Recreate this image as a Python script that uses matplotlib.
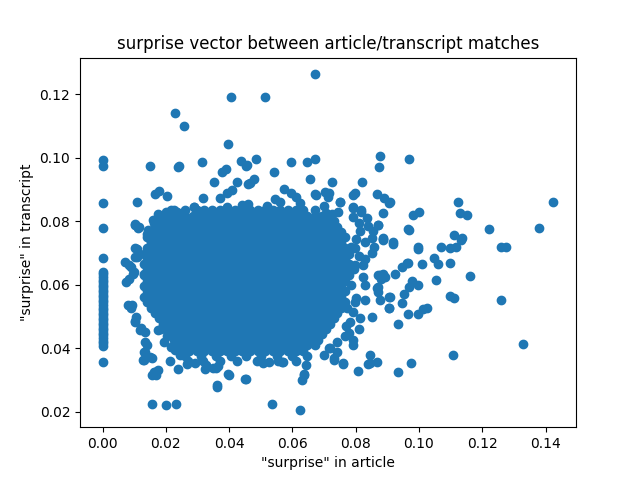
import matplotlib
matplotlib.use("Agg")
import matplotlib.pyplot as plt

# x == 0 column of matches
zero_col_y = [0.0994, 0.0973, 0.0859, 0.0779, 0.0686, 0.0641, 0.0633, 0.0625, 0.0617,
              0.0609, 0.0601, 0.0593, 0.0585, 0.0577, 0.0569, 0.0561, 0.0553, 0.0545,
              0.0537, 0.0529, 0.0521, 0.0513, 0.0505, 0.0497, 0.0489, 0.0481, 0.0473,
              0.0465, 0.0457, 0.0449, 0.0441, 0.0433, 0.0425, 0.0417, 0.0409, 0.0356]

# dense core, read row by row (y of row, x values in that row)
core_row_y = [0.0835, 0.0818, 0.0801, 0.0784, 0.0767, 0.0750, 0.0733, 0.0716, 0.0699,
              0.0682, 0.0665, 0.0648, 0.0631, 0.0614, 0.0597, 0.0580, 0.0563, 0.0546,
              0.0529, 0.0512, 0.0495, 0.0478, 0.0461, 0.0444, 0.0427, 0.0410, 0.0393,
              0.0376, 0.0360]
core_row_x = [
    # 0.0835
    [0.0226, 0.0262, 0.0298, 0.0322, 0.0346, 0.0370, 0.0394, 0.0418, 0.0442, 0.0466,
     0.0490, 0.0514, 0.0538, 0.0562, 0.0586, 0.0610, 0.0634, 0.0670],
    # 0.0818
    [0.0190, 0.0214, 0.0238, 0.0262, 0.0286, 0.0310, 0.0334, 0.0358, 0.0382,
     0.0406, 0.0430, 0.0454, 0.0478, 0.0502, 0.0526, 0.0550, 0.0574, 0.0598, 0.0622,
     0.0646, 0.0670, 0.0694, 0.0718],
    # 0.0801
    [0.0178, 0.0202, 0.0226, 0.0250, 0.0274, 0.0298, 0.0322, 0.0346, 0.0370,
     0.0394, 0.0418, 0.0442, 0.0466, 0.0490, 0.0514, 0.0538, 0.0562, 0.0586, 0.0610,
     0.0634, 0.0658, 0.0682, 0.0706, 0.0730],
    # 0.0784
    [0.0166, 0.0190, 0.0214, 0.0238, 0.0262, 0.0286, 0.0310, 0.0334, 0.0358,
     0.0382, 0.0406, 0.0430, 0.0454, 0.0478, 0.0502, 0.0526, 0.0550, 0.0574, 0.0598,
     0.0622, 0.0646, 0.0670, 0.0694, 0.0718, 0.0742],
    # 0.0767
    [0.0154, 0.0178, 0.0202, 0.0226, 0.0250, 0.0274, 0.0298, 0.0322, 0.0346, 0.0370,
     0.0394, 0.0418, 0.0442, 0.0466, 0.0490, 0.0514, 0.0538, 0.0562, 0.0586, 0.0610,
     0.0634, 0.0658, 0.0682, 0.0706, 0.0730, 0.0754],
    # 0.0750
    [0.0142, 0.0166, 0.0190, 0.0214, 0.0238, 0.0262, 0.0286, 0.0310, 0.0334, 0.0358,
     0.0382, 0.0406, 0.0430, 0.0454, 0.0478, 0.0502, 0.0526, 0.0550, 0.0574, 0.0598,
     0.0622, 0.0646, 0.0670, 0.0694, 0.0718, 0.0742, 0.0766],
    # 0.0733
    [0.0154, 0.0178, 0.0202, 0.0226, 0.0250, 0.0274, 0.0298, 0.0322, 0.0346,
     0.0370, 0.0394, 0.0418, 0.0442, 0.0466, 0.0490, 0.0514, 0.0538, 0.0562, 0.0586,
     0.0610, 0.0634, 0.0658, 0.0682, 0.0706, 0.0730, 0.0754],
    # 0.0716
    [0.0142, 0.0166, 0.0190, 0.0214, 0.0238, 0.0262, 0.0286, 0.0310, 0.0334, 0.0358,
     0.0382, 0.0406, 0.0430, 0.0454, 0.0478, 0.0502, 0.0526, 0.0550, 0.0574, 0.0598,
     0.0622, 0.0646, 0.0670, 0.0694, 0.0718, 0.0742, 0.0766],
    # 0.0699
    [0.0130, 0.0154, 0.0178, 0.0202, 0.0226, 0.0250, 0.0274, 0.0298, 0.0322, 0.0346,
     0.0370, 0.0394, 0.0418, 0.0442, 0.0466, 0.0490, 0.0514, 0.0538, 0.0562, 0.0586,
     0.0610, 0.0634, 0.0658, 0.0682, 0.0706, 0.0730, 0.0754, 0.0778],
    # 0.0682
    [0.0142, 0.0166, 0.0190, 0.0214, 0.0238, 0.0262, 0.0286, 0.0310, 0.0334, 0.0358,
     0.0382, 0.0406, 0.0430, 0.0454, 0.0478, 0.0502, 0.0526, 0.0550, 0.0574, 0.0598,
     0.0622, 0.0646, 0.0670, 0.0694, 0.0718, 0.0742, 0.0766],
    # 0.0665
    [0.0130, 0.0154, 0.0178, 0.0202, 0.0226, 0.0250, 0.0274, 0.0298, 0.0322, 0.0346,
     0.0370, 0.0394, 0.0418, 0.0442, 0.0466, 0.0490, 0.0514, 0.0538, 0.0562, 0.0586,
     0.0610, 0.0634, 0.0658, 0.0682, 0.0706, 0.0730, 0.0754, 0.0778],
    # 0.0648
    [0.0142, 0.0166, 0.0190, 0.0214, 0.0238, 0.0262, 0.0286, 0.0310, 0.0334, 0.0358,
     0.0382, 0.0406, 0.0430, 0.0454, 0.0478, 0.0502, 0.0526, 0.0550, 0.0574, 0.0598,
     0.0622, 0.0646, 0.0670, 0.0694, 0.0718, 0.0742, 0.0766],
    # 0.0631
    [0.0130, 0.0154, 0.0178, 0.0202, 0.0226, 0.0250, 0.0274, 0.0298, 0.0322, 0.0346,
     0.0370, 0.0394, 0.0418, 0.0442, 0.0466, 0.0490, 0.0514, 0.0538, 0.0562, 0.0586,
     0.0610, 0.0634, 0.0658, 0.0682, 0.0706, 0.0730, 0.0754, 0.0778],
    # 0.0614
    [0.0142, 0.0166, 0.0190, 0.0214, 0.0238, 0.0262, 0.0286, 0.0310, 0.0334, 0.0358,
     0.0382, 0.0406, 0.0430, 0.0454, 0.0478, 0.0502, 0.0526, 0.0550, 0.0574, 0.0598,
     0.0622, 0.0646, 0.0670, 0.0694, 0.0718, 0.0742, 0.0766],
    # 0.0597
    [0.0130, 0.0154, 0.0178, 0.0202, 0.0226, 0.0250, 0.0274, 0.0298, 0.0322, 0.0346,
     0.0370, 0.0394, 0.0418, 0.0442, 0.0466, 0.0490, 0.0514, 0.0538, 0.0562, 0.0586,
     0.0610, 0.0634, 0.0658, 0.0682, 0.0706, 0.0730, 0.0754],
    # 0.0580
    [0.0142, 0.0166, 0.0190, 0.0214, 0.0238, 0.0262, 0.0286, 0.0310, 0.0334, 0.0358,
     0.0382, 0.0406, 0.0430, 0.0454, 0.0478, 0.0502, 0.0526, 0.0550, 0.0574, 0.0598,
     0.0622, 0.0646, 0.0670, 0.0694, 0.0718, 0.0742, 0.0766],
    # 0.0563
    [0.0130, 0.0154, 0.0178, 0.0202, 0.0226, 0.0250, 0.0274, 0.0298, 0.0322, 0.0346,
     0.0370, 0.0394, 0.0418, 0.0442, 0.0466, 0.0490, 0.0514, 0.0538, 0.0562, 0.0586,
     0.0610, 0.0634, 0.0658, 0.0682, 0.0706, 0.0730, 0.0754],
    # 0.0546
    [0.0142, 0.0166, 0.0190, 0.0214, 0.0238, 0.0262, 0.0286, 0.0310, 0.0334, 0.0358,
     0.0382, 0.0406, 0.0430, 0.0454, 0.0478, 0.0502, 0.0526, 0.0550, 0.0574, 0.0598,
     0.0622, 0.0646, 0.0670, 0.0694, 0.0718, 0.0742, 0.0766],
    # 0.0529
    [0.0154, 0.0178, 0.0202, 0.0226, 0.0250, 0.0274, 0.0298, 0.0322, 0.0346, 0.0370,
     0.0394, 0.0418, 0.0442, 0.0466, 0.0490, 0.0514, 0.0538, 0.0562, 0.0586, 0.0610,
     0.0634, 0.0658, 0.0682, 0.0706, 0.0730, 0.0754],
    # 0.0512
    [0.0166, 0.0190, 0.0214, 0.0238, 0.0262, 0.0286, 0.0310, 0.0334, 0.0358,
     0.0382, 0.0406, 0.0430, 0.0454, 0.0478, 0.0502, 0.0526, 0.0550, 0.0574, 0.0598,
     0.0622, 0.0646, 0.0670, 0.0694, 0.0718, 0.0742],
    # 0.0495
    [0.0178, 0.0202, 0.0226, 0.0250, 0.0274, 0.0298, 0.0322, 0.0346, 0.0370,
     0.0394, 0.0418, 0.0442, 0.0466, 0.0490, 0.0514, 0.0538, 0.0562, 0.0586, 0.0610,
     0.0634, 0.0658, 0.0682, 0.0706, 0.0730],
    # 0.0478
    [0.0190, 0.0214, 0.0238, 0.0262, 0.0286, 0.0310, 0.0334, 0.0358, 0.0382,
     0.0406, 0.0430, 0.0454, 0.0478, 0.0502, 0.0526, 0.0550, 0.0574, 0.0598, 0.0622,
     0.0646, 0.0670, 0.0694, 0.0718],
    # 0.0461
    [0.0202, 0.0226, 0.0250, 0.0274, 0.0298, 0.0322, 0.0346, 0.0370,
     0.0394, 0.0418, 0.0442, 0.0466, 0.0490, 0.0514, 0.0538, 0.0562, 0.0586, 0.0610,
     0.0634, 0.0658, 0.0682, 0.0706],
    # 0.0444
    [0.0214, 0.0238, 0.0262, 0.0286, 0.0310, 0.0334, 0.0358, 0.0382,
     0.0406, 0.0430, 0.0454, 0.0478, 0.0502, 0.0526, 0.0550, 0.0574, 0.0598, 0.0622,
     0.0646, 0.0670, 0.0694],
    # 0.0427
    [0.0226, 0.0250, 0.0274, 0.0298, 0.0322, 0.0346, 0.0370, 0.0394,
     0.0418, 0.0442, 0.0466, 0.0490, 0.0514, 0.0538, 0.0562, 0.0586, 0.0610, 0.0634,
     0.0658, 0.0682],
    # 0.0410
    [0.0238, 0.0262, 0.0286, 0.0310, 0.0334, 0.0358, 0.0382, 0.0406,
     0.0430, 0.0454, 0.0478, 0.0502, 0.0526, 0.0550, 0.0574, 0.0598, 0.0622, 0.0646,
     0.0670],
    # 0.0393
    [0.0250, 0.0274, 0.0298, 0.0322, 0.0346, 0.0370, 0.0394, 0.0418,
     0.0442, 0.0466, 0.0490, 0.0514, 0.0538, 0.0562, 0.0586, 0.0610, 0.0634],
    # 0.0376
    [0.0262, 0.0310, 0.0358, 0.0406, 0.0454, 0.0502, 0.0550, 0.0598, 0.0646],
    # 0.0360
    [0.0270, 0.0318, 0.0370, 0.0425, 0.0488, 0.0555, 0.0610],
]

# scattered points around the core
edge_x = [0.0407, 0.0230, 0.0258, 0.0398, 0.0150, 0.0237, 0.0243, 0.0315, 0.0377, 0.0390,
          0.0439, 0.0453, 0.0353, 0.0426, 0.0461, 0.0110, 0.0165, 0.0179, 0.0204, 0.0317,
          0.0371, 0.0392, 0.0408, 0.0290, 0.0366, 0.0392, 0.0440, 0.0102, 0.0112, 0.0162,
          0.0144,
          0.0670, 0.0512, 0.0485, 0.0458, 0.0596, 0.0645, 0.0671, 0.0876, 0.0874, 0.0968,
          0.0541, 0.0479, 0.0467, 0.0656, 0.0725, 0.0820, 0.0575, 0.0596, 0.0611, 0.0671,
          0.0702, 0.0717, 0.0797, 0.0868, 0.0890, 0.0906, 0.0749, 0.0791, 0.0818, 0.0887,
          0.0980, 0.0839, 0.0871, 0.0966, 0.0850, 0.0887, 0.0918,
          0.1124, 0.1425, 0.0999, 0.1129, 0.1153, 0.0970, 0.1110, 0.1137, 0.1222, 0.1379,
          0.0997, 0.0997, 0.1069, 0.1097, 0.1118, 0.1134, 0.1259, 0.1274, 0.0965, 0.1010,
          0.1048, 0.1060, 0.1099, 0.0978, 0.0970, 0.0997, 0.1055, 0.1162, 0.1097, 0.1110,
          0.1258, 0.0965, 0.0997, 0.1013, 0.1026, 0.1330, 0.1109, 0.0974,
          0.0537, 0.0624, 0.0453, 0.0636, 0.0631, 0.0807, 0.0844, 0.0839, 0.0868, 0.0934,
          0.0760, 0.0733, 0.0566, 0.0506, 0.0643, 0.0934, 0.0906, 0.0906, 0.0945, 0.0953,
          0.0871, 0.0876, 0.0869, 0.0850, 0.0813, 0.0791, 0.0829, 0.0797, 0.0871, 0.0887,
          0.0881, 0.0924, 0.0945, 0.0963, 0.0918, 0.0887, 0.0823, 0.0823, 0.0797, 0.0850,
          0.0857,
          0.0157, 0.0202, 0.0231, 0.0162, 0.0170, 0.0175, 0.0128, 0.0151, 0.0133, 0.0139,
          0.0361, 0.0398, 0.0451, 0.0213, 0.0240, 0.0266, 0.0292, 0.0324, 0.0350, 0.0366,
          0.0070, 0.0109, 0.0102, 0.0096, 0.0091, 0.0075, 0.0080, 0.0091, 0.0102, 0.0117,
          0.0107, 0.0176,
          0.0104, 0.0114, 0.0199, 0.0215, 0.0236, 0.0289, 0.0104, 0.0109, 0.0083, 0.0098,
          0.0083, 0.0130, 0.0093, 0.0104, 0.0120, 0.0135, 0.0135, 0.0130, 0.0130, 0.0156,
          0.0167, 0.0157, 0.0400, 0.0363, 0.0326, 0.0358,
          0.0675, 0.0712, 0.0749, 0.0791, 0.0818, 0.0791, 0.0908, 0.0871, 0.0887, 0.0829,
          0.0797, 0.0876, 0.0892, 0.0829, 0.0866, 0.0908, 0.0905, 0.0781, 0.0771, 0.0791,
          0.0791, 0.0760, 0.0733, 0.0844, 0.0638, 0.0569, 0.0527, 0.0700, 0.0740, 0.0780,
          0.0810,
          0.0460, 0.0520, 0.0560, 0.0625, 0.0700, 0.0545, 0.0790, 0.0810, 0.0835, 0.0855,
          0.0815, 0.0800, 0.0830, 0.0765, 0.0740, 0.0720, 0.0770,
          0.0160, 0.0175, 0.0140, 0.0150, 0.0185, 0.0205, 0.0195, 0.0215, 0.0230, 0.0245,
          0.0785, 0.0795, 0.0810, 0.0785, 0.0800, 0.0745, 0.0725, 0.0705, 0.0715]
edge_y = [0.1193, 0.1143, 0.1102, 0.1045, 0.0974, 0.0970, 0.0975, 0.0988, 0.0957, 0.0964,
          0.0990, 0.0976, 0.0923, 0.0925, 0.0919, 0.0860, 0.0887, 0.0896, 0.0879, 0.0875,
          0.0875, 0.0889, 0.0899, 0.0845, 0.0829, 0.0847, 0.0852, 0.0792, 0.0779, 0.0794,
          0.0773,
          0.1263, 0.1193, 0.0998, 0.0978, 0.0988, 0.0988, 0.0998, 0.1007, 0.0970, 0.0998,
          0.0957, 0.0934, 0.0920, 0.0933, 0.0925, 0.0925, 0.0902, 0.0889, 0.0878, 0.0886,
          0.0892, 0.0889, 0.0891, 0.0886, 0.0875, 0.0859, 0.0860, 0.0847, 0.0829, 0.0826,
          0.0820, 0.0787, 0.0789, 0.0775, 0.0747, 0.0747, 0.0734,
          0.0860, 0.0860, 0.0829, 0.0826, 0.0819, 0.0773, 0.0757, 0.0749, 0.0775, 0.0778,
          0.0718, 0.0712, 0.0718, 0.0715, 0.0718, 0.0741, 0.0718, 0.0718, 0.0668, 0.0665,
          0.0686, 0.0665, 0.0668, 0.0613, 0.0594, 0.0601, 0.0617, 0.0628, 0.0565, 0.0558,
          0.0553, 0.0508, 0.0510, 0.0523, 0.0529, 0.0413, 0.0381, 0.0353,
          0.0225, 0.0205, 0.0303, 0.0319, 0.0301, 0.0329, 0.0379, 0.0350, 0.0356, 0.0325,
          0.0350, 0.0364, 0.0356, 0.0355, 0.0348, 0.0477, 0.0526, 0.0561, 0.0542, 0.0573,
          0.0594, 0.0552, 0.0578, 0.0498, 0.0495, 0.0516, 0.0553, 0.0547, 0.0631, 0.0636,
          0.0620, 0.0633, 0.0655, 0.0668, 0.0728, 0.0741, 0.0663, 0.0625, 0.0662, 0.0700,
          0.0720,
          0.0225, 0.0222, 0.0225, 0.0327, 0.0316, 0.0332, 0.0364, 0.0374, 0.0390, 0.0411,
          0.0280, 0.0319, 0.0304, 0.0360, 0.0336, 0.0350, 0.0355, 0.0334, 0.0339, 0.0345,
          0.0673, 0.0712, 0.0688, 0.0636, 0.0657, 0.0608, 0.0536, 0.0526, 0.0486, 0.0458,
          0.0500, 0.0458,
          0.0788, 0.0783, 0.0830, 0.0835, 0.0830, 0.0846, 0.0715, 0.0688, 0.0662, 0.0641,
          0.0620, 0.0636, 0.0536, 0.0484, 0.0463, 0.0453, 0.0421, 0.0390, 0.0364, 0.0369,
          0.0327, 0.0316, 0.0316, 0.0285, 0.0348, 0.0337,
          0.0882, 0.0877, 0.0861, 0.0882, 0.0835, 0.0841, 0.0861, 0.0788, 0.0746, 0.0683,
          0.0715, 0.0631, 0.0625, 0.0599, 0.0589, 0.0563, 0.0526, 0.0484, 0.0526, 0.0426,
          0.0411, 0.0353, 0.0369, 0.0353, 0.0316, 0.0358, 0.0358, 0.0380, 0.0390, 0.0450,
          0.0460,
          0.0855, 0.0850, 0.0862, 0.0858, 0.0850, 0.0870, 0.0815, 0.0795, 0.0812, 0.0770,
          0.0770, 0.0745, 0.0735, 0.0440, 0.0420, 0.0400, 0.0470,
          0.0805, 0.0825, 0.0760, 0.0745, 0.0460, 0.0440, 0.0420, 0.0405, 0.0395, 0.0380,
          0.0600, 0.0650, 0.0690, 0.0720, 0.0560, 0.0830, 0.0822, 0.0828, 0.0400]

xs = [0.0] * len(zero_col_y)
ys = list(zero_col_y)
for yrow, xrow in zip(core_row_y, core_row_x):
    xs.extend(xrow)
    ys.extend([yrow] * len(xrow))
xs.extend(edge_x)
ys.extend(edge_y)

fig, ax = plt.subplots(figsize=(6.4, 4.8), dpi=100)
ax.scatter(xs, ys)
ax.set_title("surprise vector between article/transcript matches")
ax.set_xlabel('"surprise" in article')
ax.set_ylabel('"surprise" in transcript')
fig.savefig("out.png")
